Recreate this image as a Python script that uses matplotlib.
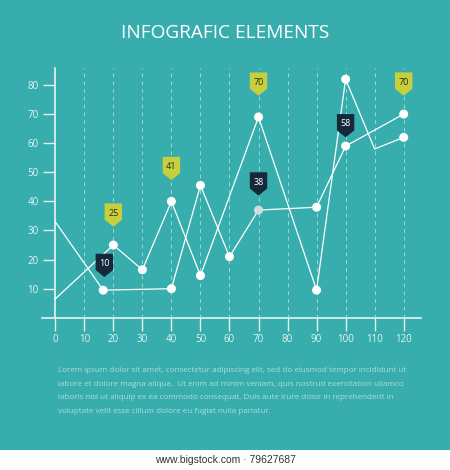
import matplotlib
matplotlib.use('Agg')
import matplotlib.pyplot as plt
from matplotlib.patches import Polygon, Rectangle

# series values
line_a_x = [0, 16.5, 40, 50, 60, 70, 90, 100, 120]
line_a_y = [33, 9.5, 10, 45.5, 21, 37, 38, 59, 70]
line_a_dot = [False, True, True, True, True, True, True, True, True]
line_a_dot_col = ['white'] * 5 + ['#d3dcdc'] + ['white'] * 3

line_b_x = [0, 20, 30, 40, 50, 70, 90, 100, 110, 120]
line_b_y = [6.5, 25, 16.5, 40, 14.5, 69, 9.5, 82, 58, 62]
line_b_dot = [False, True, True, True, True, True, True, True, False, True]

# flag labels
flag_x = [20, 16.9, 40, 70, 70, 100, 120]
flag_val = [25, 10, 41, 70, 38, 58, 70]
flag_dark = [False, True, False, False, True, True, False]

x_ticks = list(range(0, 130, 10))
y_ticks = list(range(10, 90, 10))

title = 'INFOGRAFIC ELEMENTS'
para = ['Lorem ipsum dolor sit amet, consectetur adipiscing elit, sed do eiusmod tempor incididunt ut',
        'labore et dolore magna aliqua.  Ut enim ad minim veniam, quis nostrud exercitation ullamco',
        'laboris nisi ut aliquip ex ea commodo consequat. Duis aute irure dolor in reprehenderit in',
        'voluptate velit esse cillum dolore eu fugiat nulla pariatur.']
footer = 'www.bigstock.com \u00b7 79627687'

teal = '#37aead'
light = '#e4f4f3'
yellow = '#c8cf3c'
navy = '#15293a'

plt.rcParams['font.family'] = ['Open Sans', 'DejaVu Sans']

W, H = 450, 470
fig = plt.figure(figsize=(4.5, 4.7), dpi=100, facecolor='white')
fig.patches.append(Rectangle((0, 20 / H), 1, 1 - 20 / H, transform=fig.transFigure,
                             facecolor=teal, edgecolor='none', zorder=-5))

# axes placed so that 10 units = ~29 px on both axes
ax = fig.add_axes([42.2 / W, (H - 346.9) / H, 378.9 / W, 279.4 / H])
ax.set_zorder(2)
ax.set_facecolor('none')
ax.set_xlim(-4.5, 126)
ax.set_ylim(-10, 86)

for s in ['top', 'right']:
    ax.spines[s].set_visible(False)
ax.spines['left'].set_position(('data', 0))
ax.spines['bottom'].set_position(('data', 0))
ax.spines['left'].set_bounds(0, 86)
for s in ['left', 'bottom']:
    ax.spines[s].set_color(light)
    ax.spines[s].set_linewidth(1.2)

ax.set_xticks(x_ticks)
ax.set_yticks(y_ticks)
ax.tick_params(axis='x', direction='out', length=9.5, width=1, color=light,
               labelcolor=light, labelsize=7, pad=2)
ax.tick_params(axis='y', direction='out', length=9, width=1, color=light,
               labelcolor=light, labelsize=7, pad=3)

# dashed guides
ax.vlines(x_ticks[1:], 0, 86, colors='#9ad8d5', linewidth=0.7,
          linestyles=(0, (4, 4)), zorder=1)

ax.plot(line_a_x, line_a_y, color='white', linewidth=0.9, zorder=3)
ax.plot(line_b_x, line_b_y, color='white', linewidth=0.9, zorder=3)

ax.scatter([x for x, d in zip(line_a_x, line_a_dot) if d],
           [y for y, d in zip(line_a_y, line_a_dot) if d],
           s=42, c=[c for c, d in zip(line_a_dot_col, line_a_dot) if d],
           edgecolors='none', zorder=4)
ax.scatter([x for x, d in zip(line_b_x, line_b_dot) if d],
           [y for y, d in zip(line_b_y, line_b_dot) if d],
           s=42, c='white', edgecolors='none', zorder=4)

# flags: box with a pointed bottom
fw, fbox, fpt = 3.0, 5.6, 2.4
for x, v, dark in zip(flag_x, flag_val, flag_dark):
    tip = v + (4.0 if dark else 6.3)
    pts = [(x, tip), (x - fw, tip + fpt), (x - fw, tip + fpt + fbox),
           (x + fw, tip + fpt + fbox), (x + fw, tip + fpt)]
    ax.add_patch(Polygon(pts, closed=True, facecolor=navy if dark else yellow,
                         edgecolor='none', zorder=5))
    ax.text(x, tip + fpt + fbox / 2 - 0.6, str(v), ha='center', va='center',
            fontsize=6.5, color='white' if dark else '#22301a', zorder=6)

fig.text(0.5, 1 - 33 / H, title, ha='center', va='center', fontsize=13.7,
         color='white')

for i, line in enumerate(para):
    fig.text(58 / W, 1 - (370.5 + i * 13.7) / H, line, ha='left', va='center',
             fontsize=5.8, color='#acdedb')

fig.text(0.5, 1 - 460 / H, footer, ha='center', va='center', fontsize=7.5,
         color='#333333', family=['Liberation Sans', 'DejaVu Sans'])

fig.savefig('out.png', dpi=100, facecolor='white')
